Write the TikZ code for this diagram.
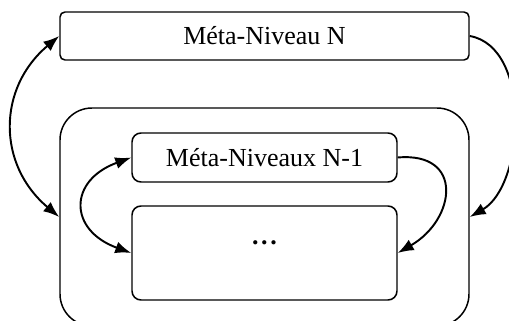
\documentclass[tikz,border=0pt]{standalone}
\usepackage{fontspec}
\setmainfont{Liberation Serif}
\usetikzlibrary{arrows.meta}

\begin{document}
\begin{tikzpicture}[
        niveau/.style={draw, line width=0.85pt, rounded corners=0.1cm, inner sep=0pt},
        cadre/.style={draw, line width=0.85pt, rounded corners=0.64cm, inner sep=0pt},
        sousniveau/.style={draw, line width=0.85pt, rounded corners=0.18cm, inner sep=0pt},
        lien/.style={line width=1.1pt, >={Latex[length=3.2mm, width=2.4mm]}},
        font=\fontsize{14.8}{17}\selectfont
    ]
        \useasboundingbox (0, 0) rectangle (10.18, 6.4);

        % Meta level N
        \node[niveau, minimum width=8.18cm, minimum height=0.96cm] (niveauN) at (5.29, 5.68) {Méta-Niveau N};

        % Frame holding the lower levels
        \node[cadre, minimum width=8.18cm, minimum height=4.36cm] (cadreN) at (5.29, 2.06) {};

        % Meta levels N-1
        \node[sousniveau, minimum width=5.3cm, minimum height=0.98cm] (niveauNm) at (5.29, 3.25) {Méta-Niveaux N-1};

        % Remaining levels
        \node[sousniveau, minimum width=5.3cm, minimum height=1.88cm] (reste) at (5.29, 1.34) {};
        \node (points) at (5.29, 1.54) {\textbf{.\kern0.1em.\kern0.1em.}};

        % Links of level N
        \draw[lien, <->] (niveauN.west) to[out=220, in=140, looseness=1.15] (cadreN.west);
        \draw[lien, ->] (niveauN.east) to[out=-10, in=30, looseness=0.9] (cadreN.east);

        % Links of level N-1
        \draw[lien, <->] (niveauNm.west) to[out=200, in=160, looseness=1.8] (reste.west);
        \draw[lien, ->] (niveauNm.east) to[out=5, in=30, looseness=1.8] (reste.east);
    \end{tikzpicture}
\end{document}
